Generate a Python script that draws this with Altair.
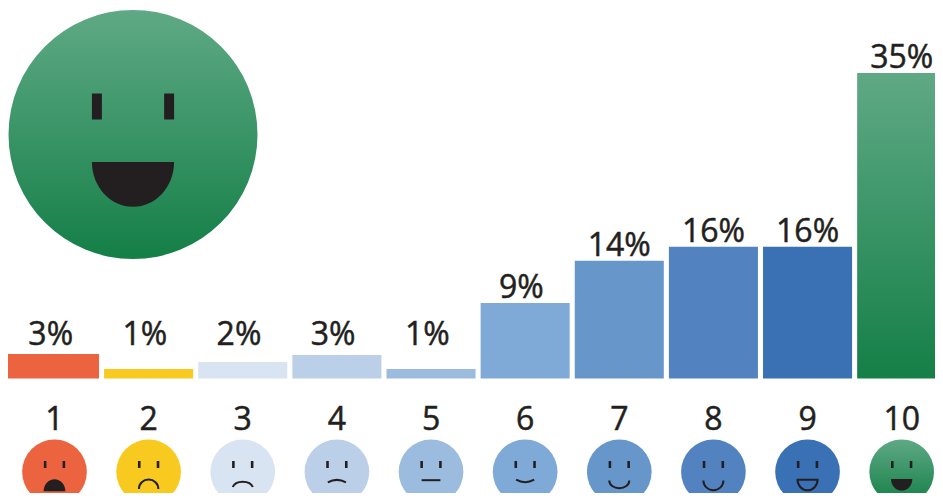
import altair as alt
import pandas as pd

# ---- values ----
scores = [1, 2, 3, 4, 5, 6, 7, 8, 9, 10]
bar_heights = [2.8, 1.1, 1.9, 2.7, 1.1, 8.65, 13.5, 15.1, 15.1, 35.0]
labels = ["3%", "1%", "2%", "3%", "1%", "9%", "14%", "16%", "16%", "35%"]
colors = ["#ec6340", "#f8ca20", "#d9e4f2", "#bbd0e8", "#9bbcde",
          "#7fa9d6", "#6796cb", "#5283c0", "#3a70b4", "#3f9468"]

# ---- face glyphs, in face-radius units ----
EYES = "M-0.33,-0.33 L-0.25,-0.33 L-0.25,-0.12 L-0.33,-0.12 Z M0.25,-0.33 L0.33,-0.33 L0.33,-0.12 L0.25,-0.12 Z"
OPEN_SMILE = "M-0.33,0.22 L0.33,0.22 A0.33,0.36 0 0 1 -0.33,0.22 Z"
mouths = [
    "M-0.335,0.6 A0.335,0.37 0 0 1 0.335,0.6 Z",
    "M-0.3,0.53 A0.3,0.29 0 0 1 0.3,0.53",
    "M-0.31,0.47 A0.32,0.22 0 0 1 0.31,0.47",
    "M-0.28,0.33 Q0,0.17 0.28,0.33",
    "M-0.29,0.26 L0.29,0.26",
    "M-0.28,0.245 Q0,0.4 0.28,0.245",
    "M-0.31,0.27 A0.31,0.24 0 0 0 0.31,0.27",
    "M-0.31,0.27 A0.31,0.3 0 0 0 0.31,0.27",
    "M-0.31,0.25 L0.31,0.25 A0.31,0.32 0 0 1 -0.31,0.25 Z",
    OPEN_SMILE,
]
mouth_filled = [True, False, False, False, False, False, False, False, False, True]

INK = "#231f20"
FONT = "Open Sans"
FONT_SIZE = 32
TEXT_STROKE = 0.5
X_DOMAIN = [0.506, 10.354]
Y_DOMAIN = [-13.11, 42.44]
NUMBER_Y = -5.9
FACE_Y = -10.68
FACE_SIZE = 4186
BIG_X, BIG_Y, BIG_SIZE = 1.834, 27.95, 62001
LABEL_FLOOR = 3.84
LABEL_GAP = 0.57
BAR_HALF = 0.473

df = pd.DataFrame({"score": scores, "h": bar_heights, "label": labels,
                   "color": colors, "mouth": mouths, "filled": mouth_filled})
df["lo"] = df["score"] - BAR_HALF
df["hi"] = df["score"] + BAR_HALF
df.loc[0, "lo"] = X_DOMAIN[0]
df["label_y"] = (df["h"] + LABEL_GAP).clip(lower=LABEL_FLOOR)
df["label_x"] = df["score"] - df["score"].le(6) * 0.04
df["base"] = 0.0
df["number_y"] = NUMBER_Y
df["face_y"] = FACE_Y
df["eyes"] = EYES

big = pd.DataFrame({"x": [BIG_X], "y": [BIG_Y], "eyes": [EYES], "mouth": [OPEN_SMILE]})

green = alt.LinearGradient(gradient="linear", x1=0, x2=0, y1=0, y2=1,
                           stops=[alt.GradientStop(offset=0, color="#5fa985"),
                                  alt.GradientStop(offset=1, color="#147f47")])


def X(f):
    return alt.X(f, type="quantitative", scale=alt.Scale(domain=X_DOMAIN, nice=False, zero=False), axis=None)


def Y(f):
    return alt.Y(f, type="quantitative", scale=alt.Scale(domain=Y_DOMAIN, nice=False, zero=False), axis=None)


base = alt.Chart(df)
flat = df[df.score < 10]
ten = df[df.score == 10]
text_style = dict(font=FONT, fontSize=FONT_SIZE, color=INK, stroke=INK, strokeWidth=TEXT_STROKE,
                  baseline="alphabetic", align="center")

bars = alt.Chart(flat).mark_bar(clip=True, strokeWidth=0).encode(
    x=X("lo"), x2="hi", y=Y("base"), y2="h", fill=alt.Fill("color:N", scale=None))
bar10 = alt.Chart(ten).mark_bar(clip=True, strokeWidth=0, fill=green).encode(
    x=X("lo"), x2="hi", y=Y("base"), y2="h")
value_text = base.mark_text(**text_style).encode(
    x=X("label_x"), y=Y("label_y"), text="label:N")
number_text = base.mark_text(**text_style).encode(
    x=X("score"), y=Y("number_y"), text="score:N")

faces = alt.Chart(flat).mark_point(filled=True, clip=True, opacity=1, strokeWidth=0, shape="circle", size=FACE_SIZE).encode(
    x=X("score"), y=Y("face_y"), fill=alt.Fill("color:N", scale=None))
face10 = alt.Chart(ten).mark_point(filled=True, clip=True, opacity=1, strokeWidth=0, shape="circle", size=FACE_SIZE, fill=green).encode(
    x=X("score"), y=Y("face_y"))
eyes = base.mark_point(filled=True, clip=True, opacity=1, strokeWidth=0, size=FACE_SIZE, color=INK).encode(
    x=X("score"), y=Y("face_y"), shape=alt.Shape("eyes:N", scale=None))
mouth_solid = alt.Chart(df[df.filled]).mark_point(filled=True, clip=True, opacity=1, strokeWidth=0, size=FACE_SIZE, color=INK).encode(
    x=X("score"), y=Y("face_y"), shape=alt.Shape("mouth:N", scale=None))
mouth_line = alt.Chart(df[~df.filled]).mark_point(filled=False, clip=True, opacity=1, strokeWidth=2, size=FACE_SIZE, color=INK).encode(
    x=X("score"), y=Y("face_y"), shape=alt.Shape("mouth:N", scale=None))

big_face = alt.Chart(big).mark_point(filled=True, clip=True, opacity=1, strokeWidth=0, shape="circle", size=BIG_SIZE, fill=green).encode(
    x=X("x"), y=Y("y"))
big_eyes = alt.Chart(big).mark_point(filled=True, clip=True, opacity=1, strokeWidth=0, size=BIG_SIZE, color=INK).encode(
    x=X("x"), y=Y("y"), shape=alt.Shape("eyes:N", scale=None))
big_mouth = alt.Chart(big).mark_point(filled=True, clip=True, opacity=1, strokeWidth=0, size=BIG_SIZE, color=INK).encode(
    x=X("x"), y=Y("y"), shape=alt.Shape("mouth:N", scale=None))

chart = alt.layer(
    bars, bar10, value_text, number_text, faces, face10, eyes, mouth_solid, mouth_line,
    big_face, big_eyes, big_mouth,
).properties(
    width=927, height=485, padding=0, autosize=alt.AutoSizeParams(type="none"),
).configure_view(stroke=None)

chart.save("out.html", embed_options={"renderer": "svg", "actions": False})
